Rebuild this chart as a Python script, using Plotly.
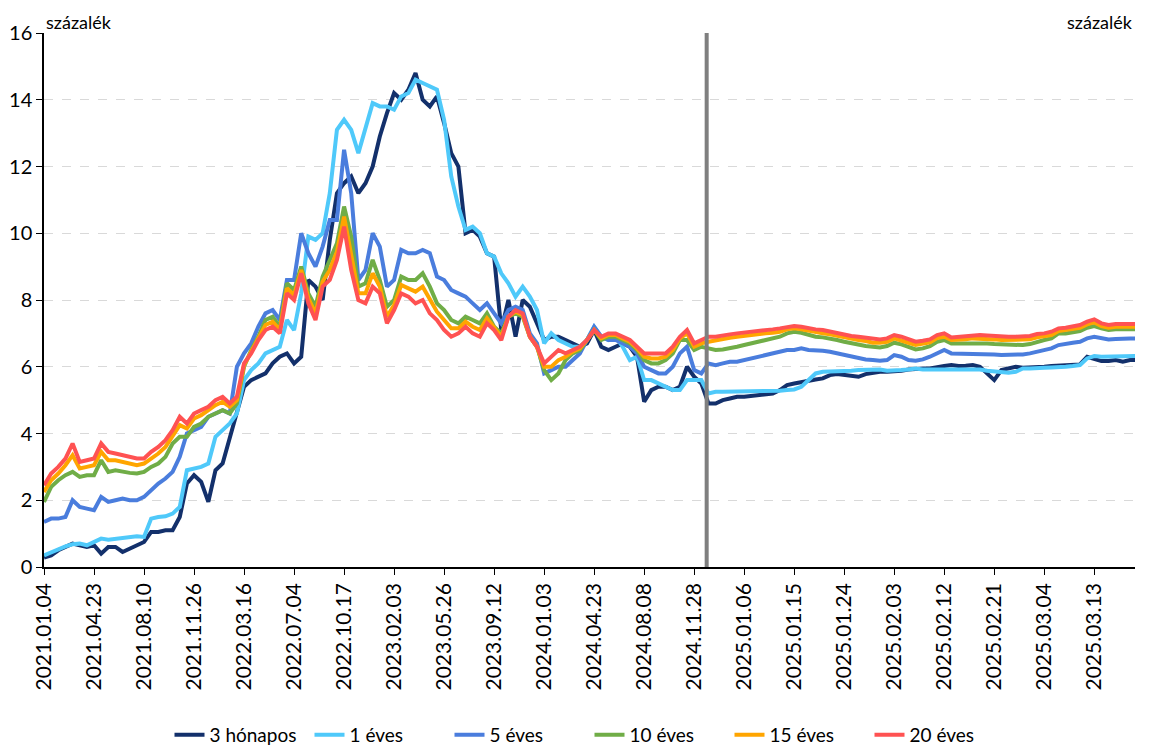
import plotly.graph_objects as go

# ---- data, one value per category ----
tick_labels = ["2021.01.04", "2021.04.23", "2021.08.10", "2021.11.26", "2022.03.16",
               "2022.07.04", "2022.10.17", "2023.02.03", "2023.05.26", "2023.09.12",
               "2024.01.03", "2024.04.23", "2024.08.08", "2024.11.28", "2025.01.06",
               "2025.01.15", "2025.01.24", "2025.02.03", "2025.02.12", "2025.02.21",
               "2025.03.04", "2025.03.13"]
tick_step = 7          # a label every 7th category
separator_cat = 92.75  # grey vertical divider
x_end = 152.7          # right end of the category axis

y_3m = [0.28, 0.35, 0.5, 0.6, 0.7, 0.65, 0.6, 0.65, 0.4, 0.6,
        0.6, 0.45, 0.55, 0.65, 0.75, 1.05, 1.05, 1.1, 1.1, 1.5,
        2.5, 2.75, 2.55, 1.95, 2.9, 3.1, 3.9, 4.7, 5.4, 5.6,
        5.7, 5.8, 6.1, 6.3, 6.4, 6.1, 6.3, 8.6, 8.4, 8.0,
        9.8, 11.2, 11.5, 11.7, 11.2, 11.5, 12.0, 12.9, 13.6, 14.2,
        14.0, 14.3, 14.8, 14.0, 13.8, 14.1, 13.3, 12.4, 12.0, 10.0,
        10.1, 9.9, 9.4, 9.3, 7.1, 8.0, 6.9, 8.0, 7.8, 7.3,
        6.8, 6.9, 6.9, 6.8, 6.7, 6.6, 6.7, 7.1, 6.6, 6.5,
        6.6, 6.7, 6.6, 6.3, 4.95, 5.3, 5.4, 5.4, 5.3, 5.4,
        6.0, 5.7, 5.5, 4.9, 4.9, 5.0, 5.05, 5.1, 5.1, 5.12,
        5.15, 5.17, 5.2, 5.3, 5.45, 5.5, 5.55, 5.6, 5.62, 5.65,
        5.75, 5.78, 5.75, 5.72, 5.7, 5.78, 5.82, 5.85, 5.85, 5.85,
        5.88, 5.92, 5.95, 5.95, 5.95, 6.0, 6.02, 6.05, 6.02, 6.03,
        6.05, 6.0, 5.8, 5.6, 5.9, 5.95, 6.0, 5.97, 5.97, 6.0,
        6.0, 6.02, 6.03, 6.03, 6.05, 6.07, 6.3, 6.25, 6.17, 6.17,
        6.2, 6.15, 6.2, 6.2]

y_1y = [0.35, 0.45, 0.55, 0.62, 0.68, 0.7, 0.65, 0.75, 0.85, 0.82,
        0.85, 0.85, 0.88, 0.92, 0.9, 1.45, 1.5, 1.52, 1.6, 1.8,
        2.9, 2.95, 3.0, 3.1, 3.9, 4.1, 4.3, 4.6, 5.6, 5.9,
        6.1, 6.4, 6.5, 6.6, 7.4, 7.1, 8.2, 9.9, 9.8, 10.0,
        11.2, 13.1, 13.4, 13.1, 12.4, 13.1, 13.9, 13.8, 13.8, 13.7,
        14.1, 14.2, 14.6, 14.5, 14.4, 14.3, 13.4, 11.7, 10.8, 10.1,
        10.2, 10.0, 9.4, 9.3, 8.8, 8.5, 8.1, 8.4, 8.1, 7.7,
        6.7, 7.0, 6.8, 6.7, 6.6, 6.6, 6.8, 7.2, 6.9, 6.8,
        6.9, 6.6, 6.2, 6.3, 5.6, 5.6, 5.5, 5.4, 5.3, 5.3,
        5.6, 5.6, 5.6, 5.2, 5.25, 5.25, 5.25, 5.25, 5.25, 5.25,
        5.25, 5.25, 5.25, 5.28, 5.3, 5.32, 5.4, 5.6, 5.8, 5.85,
        5.85, 5.87, 5.88, 5.88, 5.9, 5.9, 5.92, 5.92, 5.88, 5.88,
        5.9, 5.92, 5.95, 5.92, 5.92, 5.92, 5.93, 5.93, 5.93, 5.94,
        5.94, 5.92, 5.88, 5.85, 5.82, 5.82, 5.85, 5.95, 5.95, 5.97,
        5.97, 5.98, 5.98, 6.0, 6.02, 6.05, 6.25, 6.32, 6.3, 6.3,
        6.3, 6.3, 6.32, 6.32]

y_5y = [1.35, 1.45, 1.45, 1.5, 2.0, 1.8, 1.75, 1.7, 2.1, 1.95,
        2.0, 2.05, 2.0, 2.0, 2.1, 2.3, 2.5, 2.65, 2.85, 3.3,
        4.0, 4.1, 4.2, 4.5, 4.6, 4.7, 4.6, 6.0, 6.4, 6.7,
        7.2, 7.6, 7.7, 7.4, 8.6, 8.6, 10.0, 9.4, 9.0, 9.6,
        10.4, 10.4, 12.5, 11.2, 8.6, 8.9, 10.0, 9.6, 8.4, 8.6,
        9.5, 9.4, 9.4, 9.5, 9.4, 8.7, 8.6, 8.3, 8.2, 8.1,
        7.9, 7.7, 7.9, 7.6, 7.3, 7.7, 7.8, 7.7, 7.0, 6.7,
        5.8, 5.9, 6.0, 6.0, 6.2, 6.4, 6.8, 7.2, 6.9, 6.8,
        6.8, 6.7, 6.6, 6.4, 6.0, 5.9, 5.8, 5.8, 6.0, 6.4,
        6.6, 5.9, 5.8, 6.1, 6.05, 6.1, 6.15, 6.15, 6.2, 6.25,
        6.3, 6.35, 6.38, 6.45, 6.5, 6.5, 6.55, 6.5, 6.5, 6.48,
        6.45, 6.4, 6.35, 6.3, 6.25, 6.22, 6.2, 6.18, 6.2, 6.35,
        6.3, 6.2, 6.18, 6.22, 6.3, 6.4, 6.5, 6.4, 6.4, 6.4,
        6.4, 6.4, 6.38, 6.37, 6.35, 6.35, 6.35, 6.37, 6.4, 6.45,
        6.5, 6.55, 6.65, 6.7, 6.72, 6.75, 6.85, 6.9, 6.85, 6.82,
        6.83, 6.85, 6.85, 6.85]

y_10y = [1.95, 2.4, 2.6, 2.75, 2.85, 2.7, 2.75, 2.75, 3.2, 2.85,
         2.9, 2.85, 2.82, 2.8, 2.85, 3.0, 3.1, 3.3, 3.7, 3.9,
         3.9, 4.2, 4.3, 4.5, 4.6, 4.7, 4.6, 4.9, 6.0, 6.5,
         6.9, 7.4, 7.5, 7.2, 8.5, 8.3, 9.0, 8.2, 7.8, 8.7,
         9.2, 9.7, 10.8, 9.9, 8.4, 8.5, 9.2, 8.6, 7.8, 8.0,
         8.7, 8.6, 8.6, 8.8, 8.4, 7.9, 7.7, 7.4, 7.3, 7.5,
         7.4, 7.3, 7.6, 7.2, 7.0, 7.5, 7.6, 7.5, 6.9, 6.6,
         5.9, 5.6, 5.8, 6.2, 6.4, 6.5, 6.8, 7.1, 6.8, 6.9,
         6.9, 6.8, 6.7, 6.5, 6.2, 6.1, 6.1, 6.2, 6.4, 6.8,
         6.8, 6.5, 6.6, 6.55, 6.5, 6.52, 6.55, 6.6, 6.65, 6.7,
         6.75, 6.8, 6.82, 6.9, 7.0, 7.05, 7.02, 6.95, 6.9, 6.88,
         6.85, 6.8, 6.75, 6.7, 6.67, 6.62, 6.6, 6.58, 6.62, 6.72,
         6.67, 6.6, 6.52, 6.55, 6.62, 6.75, 6.8, 6.7, 6.7, 6.72,
         6.72, 6.72, 6.7, 6.68, 6.67, 6.65, 6.65, 6.65, 6.68, 6.75,
         6.8, 6.85, 7.0, 7.0, 7.02, 7.07, 7.17, 7.22, 7.15, 7.1,
         7.12, 7.12, 7.12, 7.12]

y_15y = [2.25, 2.6, 2.8, 3.05, 3.35, 2.95, 3.0, 3.05, 3.45, 3.2,
         3.2, 3.15, 3.1, 3.05, 3.1, 3.25, 3.4, 3.6, 3.95, 4.25,
         4.15, 4.45, 4.55, 4.7, 4.85, 4.95, 4.8, 5.0, 6.05, 6.45,
         6.85, 7.25, 7.35, 7.1, 8.35, 8.15, 8.9, 8.05, 7.6, 8.55,
         8.9, 9.45, 10.5, 9.4, 8.2, 8.2, 8.8, 8.4, 7.5, 7.85,
         8.45, 8.35, 8.25, 8.4, 8.0, 7.65, 7.4, 7.15, 7.15, 7.35,
         7.2, 7.1, 7.45, 7.15, 6.9, 7.5, 7.65, 7.55, 6.9, 6.6,
         6.0, 6.0, 6.2, 6.3, 6.45, 6.55, 6.8, 7.1, 6.85, 6.95,
         6.95, 6.85, 6.75, 6.55, 6.3, 6.25, 6.25, 6.3, 6.5, 6.85,
         7.0, 6.6, 6.7, 6.75, 6.8, 6.85, 6.87, 6.9, 6.92, 6.95,
         6.95, 7.0, 7.02, 7.05, 7.12, 7.15, 7.12, 7.07, 7.03, 7.0,
         6.97, 6.92, 6.87, 6.83, 6.8, 6.77, 6.72, 6.72, 6.75, 6.85,
         6.8, 6.72, 6.65, 6.68, 6.73, 6.86, 6.9, 6.8, 6.8, 6.82,
         6.85, 6.85, 6.84, 6.82, 6.8, 6.8, 6.8, 6.8, 6.82, 6.88,
         6.9, 6.95, 7.07, 7.1, 7.12, 7.17, 7.27, 7.33, 7.22, 7.17,
         7.2, 7.2, 7.2, 7.2]

y_20y = [2.45, 2.8, 3.0, 3.25, 3.7, 3.15, 3.2, 3.25, 3.7, 3.45,
         3.4, 3.35, 3.3, 3.25, 3.25, 3.45, 3.6, 3.8, 4.1, 4.5,
         4.3, 4.6, 4.7, 4.8, 5.0, 5.1, 4.9, 5.1, 6.1, 6.4,
         6.8, 7.1, 7.2, 7.0, 8.2, 8.0, 8.8, 7.9, 7.4, 8.4,
         8.6, 9.2, 10.2, 8.9, 8.0, 7.9, 8.4, 8.2, 7.3, 7.7,
         8.2, 8.1, 7.9, 8.0, 7.6, 7.4, 7.1, 6.9, 7.0, 7.2,
         7.0, 6.9, 7.3, 7.1, 6.8, 7.5, 7.7, 7.6, 6.9, 6.6,
         6.1, 6.3, 6.5, 6.4, 6.5, 6.6, 6.8, 7.1, 6.9, 7.0,
         7.0, 6.9, 6.8, 6.6, 6.4, 6.4, 6.4, 6.4, 6.6, 6.9,
         7.1, 6.7, 6.8, 6.9, 6.9, 6.95, 6.97, 7.0, 7.02, 7.05,
         7.05, 7.1, 7.12, 7.15, 7.2, 7.22, 7.2, 7.15, 7.12, 7.1,
         7.05, 7.0, 6.95, 6.92, 6.9, 6.87, 6.82, 6.82, 6.85, 6.95,
         6.9, 6.82, 6.75, 6.78, 6.82, 6.95, 7.0, 6.88, 6.9, 6.92,
         6.95, 6.95, 6.94, 6.92, 6.9, 6.9, 6.9, 6.9, 6.92, 6.98,
         7.0, 7.05, 7.15, 7.17, 7.2, 7.25, 7.35, 7.42, 7.3, 7.25,
         7.28, 7.28, 7.28, 7.28]

series_names = ["3 hónapos", "1 éves", "5 éves", "10 éves", "15 éves", "20 éves"]
series_values = [y_3m, y_1y, y_5y, y_10y, y_15y, y_20y]
series_colors = ["#13306B", "#4FC9FA", "#4A7DDD", "#70AD47", "#FFA500", "#FF5252"]

FONT = "Lato, 'Open Sans', 'DejaVu Sans', sans-serif"

fig = go.Figure()
for name, vals, col in zip(series_names, series_values, series_colors):
    fig.add_trace(go.Scatter(
        x=list(range(len(vals))), y=vals, name=name, mode="lines",
        line=dict(color=col, width=4), hoverinfo="skip"))

tickvals = [i * tick_step for i in range(len(tick_labels))]
axis_common = dict(showline=True, linecolor="black", linewidth=1.5, ticks="outside",
                   ticklen=6, tickcolor="black", tickwidth=1.2,
                   automargin=False, zeroline=False)

fig.update_layout(
    width=1174, height=746,
    paper_bgcolor="white", plot_bgcolor="white",
    margin=dict(l=44, r=39, t=33, b=179, autoexpand=False),
    font=dict(family=FONT, size=19, color="black"),
    showlegend=True,
    legend=dict(orientation="h", x=0.5, xanchor="center", y=-0.3146, yanchor="middle",
                font=dict(size=19), entrywidth=95, entrywidthmode="pixels",
                traceorder="normal"),
    xaxis=dict(range=[0, x_end], tickmode="array", tickvals=tickvals,
               ticktext=tick_labels, tickangle=-90, showgrid=False,
               tickfont=dict(size=21), **axis_common),
    yaxis=dict(range=[0, 16], dtick=2, showgrid=True, gridcolor="#D9D9D9",
               griddash="dash", gridwidth=1, tickfont=dict(size=20), **axis_common),
    yaxis2=dict(range=[0, 16], dtick=2, overlaying="y", side="right", anchor="x",
                showgrid=False, tickfont=dict(size=20), **axis_common),
    shapes=[dict(type="line", xref="x", yref="paper", x0=separator_cat, x1=separator_cat,
                 y0=0, y1=1, line=dict(color="#7F7F7F", width=4), layer="above")],
    annotations=[
        dict(text="százalék", xref="paper", yref="paper", x=0, y=1.0, xanchor="left",
             yanchor="bottom", showarrow=False, font=dict(size=18), yshift=-2),
        dict(text="százalék", xref="paper", yref="paper", x=1, y=1.0, xanchor="right",
             yanchor="bottom", showarrow=False, font=dict(size=18), yshift=-2),
    ],
)

fig.write_html("out.html", config={"displayModeBar": False},
               post_script="document.body.style.margin='0';document.body.style.overflow='hidden';")
